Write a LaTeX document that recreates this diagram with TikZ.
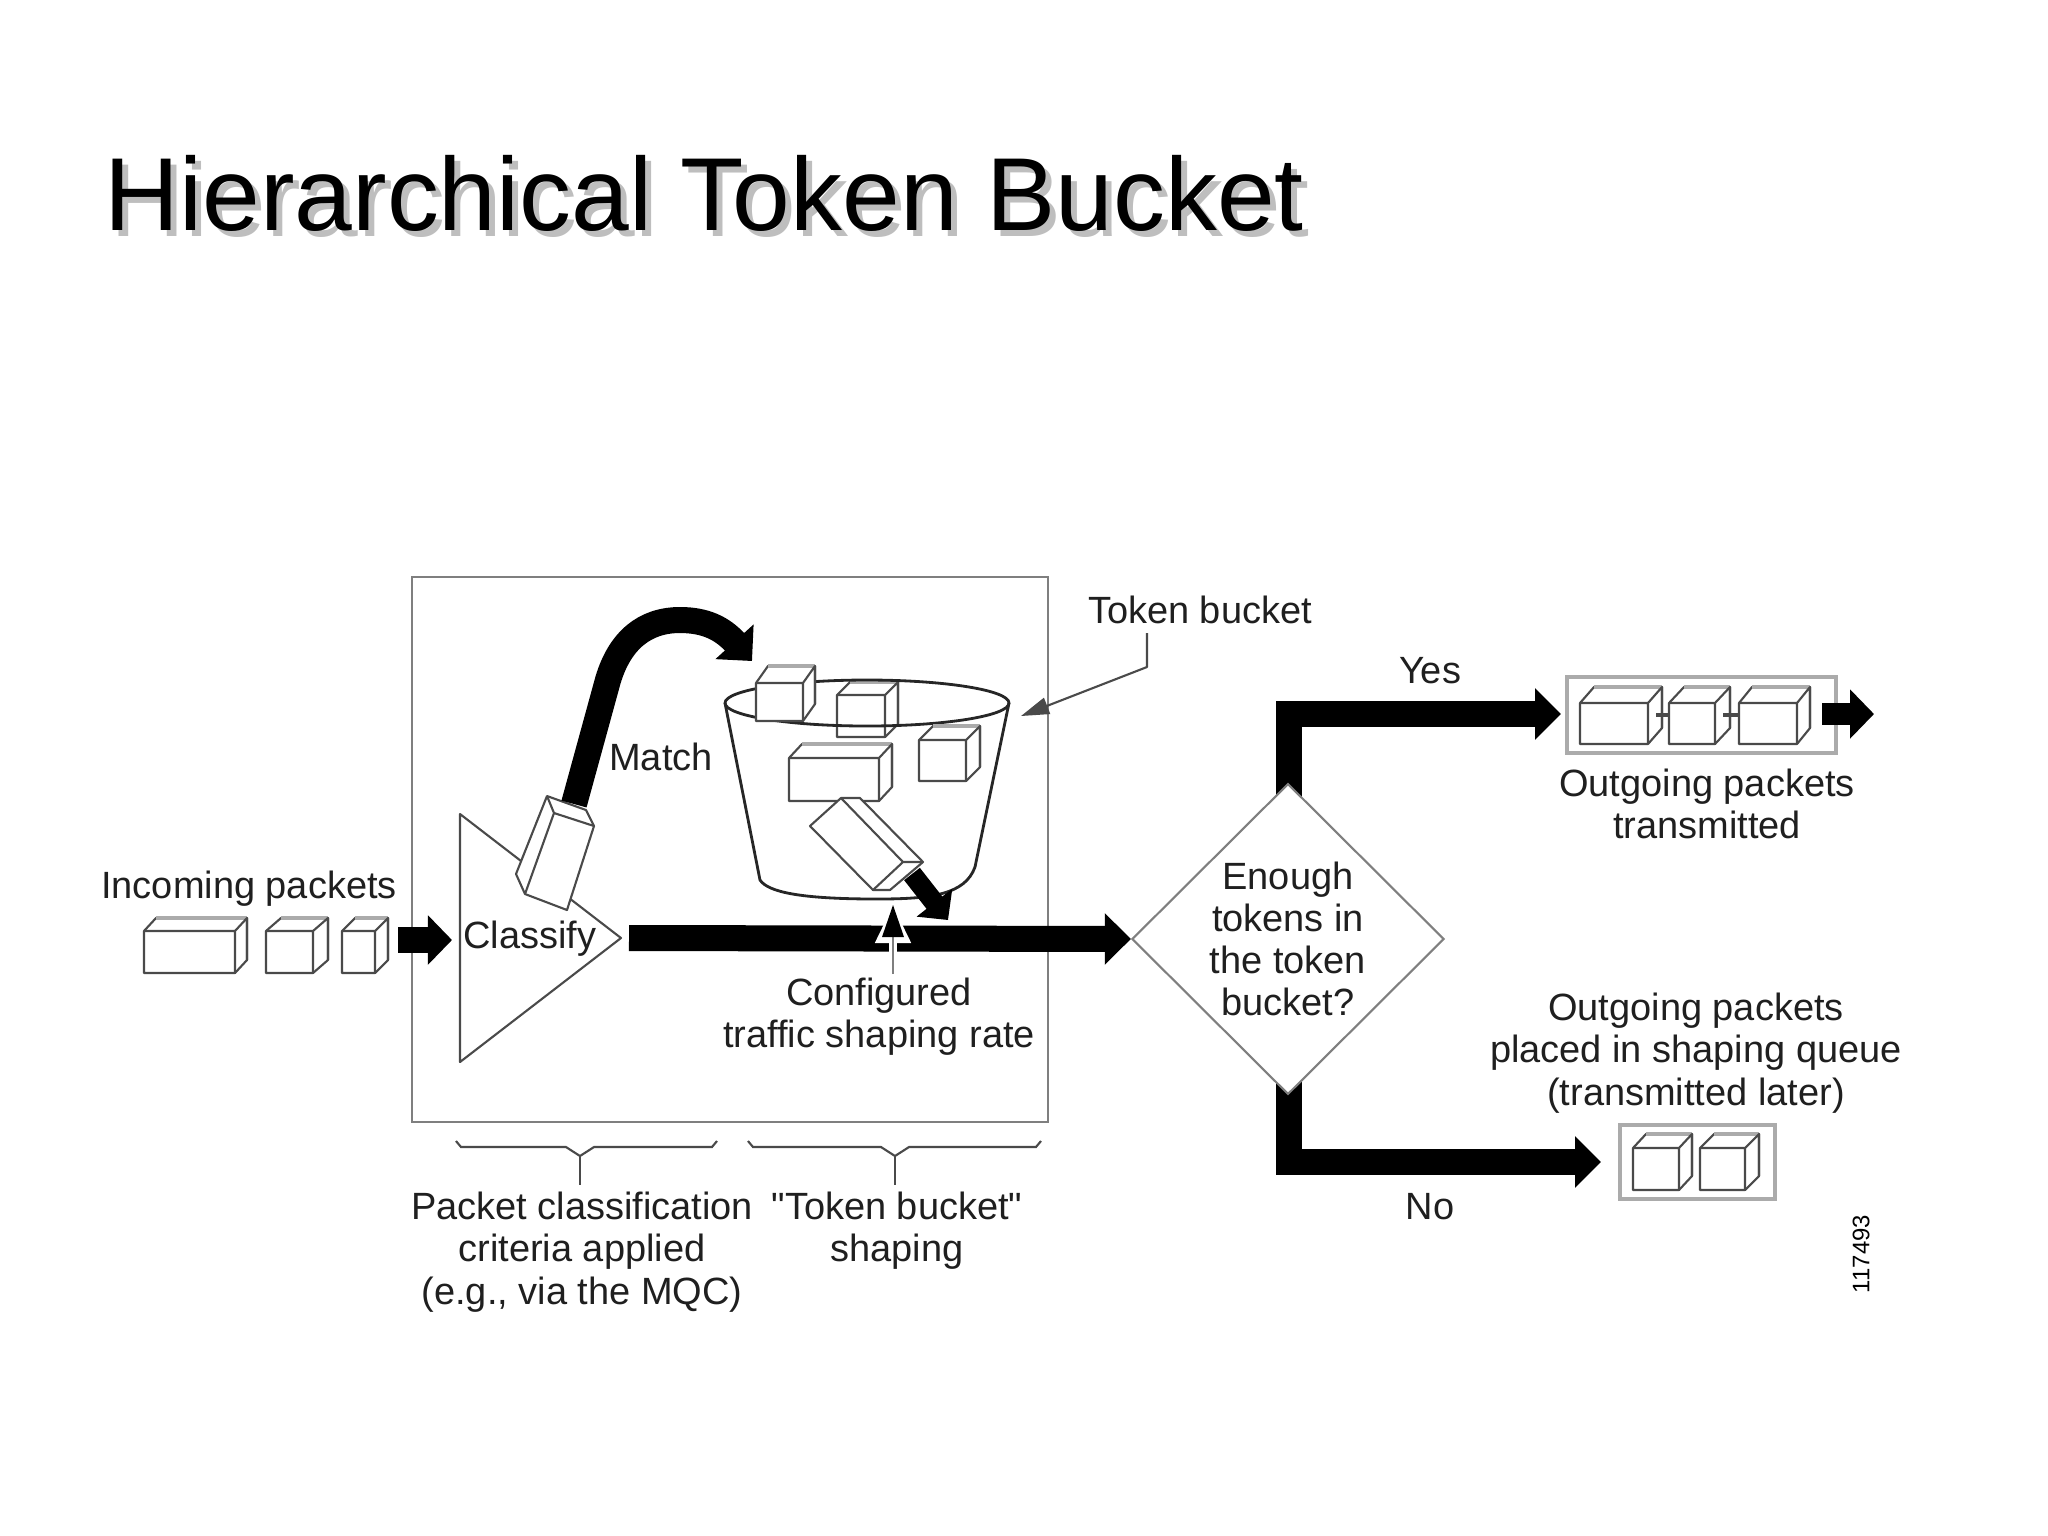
\documentclass[tikz,border=0pt]{standalone}
\usepackage{fontspec}
\setmainfont[Ligatures=TeXOff]{Liberation Sans}
\usetikzlibrary{arrows.meta,shapes.geometric,backgrounds}

\definecolor{frameline}{HTML}{7F7F7F}
\definecolor{boxline}{HTML}{ABABAB}
\definecolor{packetline}{HTML}{4A4A4A}
\definecolor{titleshadow}{HTML}{BEBEBE}

\tikzset{
    textlabel/.style={font=\fontsize{10.8}{12}\selectfont, align=center, inner sep=0pt, text=black!88},
    titlestyle/.style={font=\fontsize{29.5}{32}\selectfont, anchor=base west, inner sep=0pt},
    thinline/.style={draw=packetline, line width=0.6pt, line join=round},
    fatarrow/.style={line width=0.26cm, line join=miter, -{Triangle[length=0.26cm,width=0.5cm]}},
    queuebox/.style={draw=boxline, line width=1pt}
}

\newcommand{\drawpacket}[6]{
    \filldraw[thinline, fill=white] (#1,#2) -- ++(#5,-#6) -- ++(#3,0) -- ++(0,#4) -- ++(-#5,#6) -- ++(-#3,0) -- cycle;
    \draw[boxline, line width=1.1pt] (#1,#2) ++(#5,-#6) -- ++(#3,0);
    \draw[thinline] (#1,#2) -- ++(#3,0) -- ++(0,#4) (#1,#2) ++(#3,0) -- ++(#5,-#6) -- ++(0,#4);
}

\begin{document}
\begin{tikzpicture}[x=0.01cm,y=-0.01cm]
    \useasboundingbox (0,0) rectangle (2048,1535);

    \coordinate (matchstart) at (574,804);
    \coordinate (matchbend) at (608,680);
    \coordinate (matchend) at (752,661);
    \coordinate (barstart) at (629,938);
    \coordinate (inleft) at (398,940);
    \coordinate (inright) at (452,940);
    \coordinate (drainstart) at (912,874);
    \coordinate (drainend) at (948,920);
    \coordinate (yesbend) at (1289,714);
    \coordinate (yesend) at (1561,714);
    \coordinate (nobend) at (1289,1162);
    \coordinate (noend) at (1601,1162);
    \coordinate (outleft) at (1822,714);
    \coordinate (outright) at (1874,714);
    \coordinate (ratestart) at (893,974);
    \coordinate (ratetip) at (893,905);
    \coordinate (ratehead) at (893,930);
    \coordinate (leadertop) at (1147,633);
    \coordinate (leaderbend) at (1147,667);
    \coordinate (leaderend) at (1021,716);

    % title
    \node[titlestyle, text=titleshadow] (titleback) at (110,236) {Hierarchical Token Bucket};
    \node[titlestyle] (titletext) at (104,230) {Hierarchical Token Bucket};

    % frame
    \draw[frameline, line width=0.7pt] (412,577) rectangle (1048,1122);

    % classifier
    \draw[thinline] (460,814) -- (460,1062) -- (621,938) -- cycle;
    \node[textlabel] (classify) at (530,939) {Classify};

    % packets in front of the frame, and in the boxes
    \foreach \x/\y/\w/\h/\dx/\dy in {144/931/91/42/12/13, 266/931/47/42/15/13, 342/931/33/42/13/13,
        837/695/48/42/13/13,
        1580/703/68/41/14/16, 1669/703/46/41/15/16, 1739/703/58/41/13/16,
        1633/1148/46/42/13/14, 1700/1148/45/42/14/14}
    {
        \drawpacket{\x}{\y}{\w}{\h}{\dx}{\dy}
    }

    % bucket
    \draw[line width=0.8pt, draw=black!85] (867,703) ellipse (142 and 23);
    \draw[line width=0.8pt, draw=black!85] (725,703) -- (760,880) .. controls (768,892) and (800,899) .. (877,899)
        .. controls (930,899) and (965,895) .. (975,867) -- (1009,703);
    \foreach \x/\y/\w/\h/\dx/\dy in {756/683/47/38/12/17, 919/740/47/41/14/14, 789/758/90/43/13/14}
    {
        \drawpacket{\x}{\y}{\w}{\h}{\dx}{\dy}
    }
    \filldraw[thinline, fill=white] (810,826) -- (841,798) -- (860,798) -- (923,862) -- (890,890) -- (873,890) -- cycle;
    \draw[thinline] (841,798) -- (903,862) -- (873,890) (903,862) -- (923,862);
    \draw[line width=0.2cm, -{Triangle[length=0.22cm,width=0.44cm]}] (drainstart) -- (drainend);

    % packet that matched
    \filldraw[thinline, fill=white] (547,796) -- (586,810) -- (594,826) -- (567,910) -- (525,894) -- (516,874) -- cycle;
    \draw[thinline] (547,796) -- (554,813) -- (594,826) (554,813) -- (525,894);
    \draw[fatarrow] (matchstart) -- (matchbend) .. controls (620,640) and (645,620) .. (680,620) .. controls (705,620) and (722,628) .. (matchend);
    \node[textlabel] (match) at (661,757) {Match};

    \draw[fatarrow, -{Triangle[length=0.24cm,width=0.48cm]}] (inleft) -- (inright);

    % decision
    \node[diamond, draw=frameline, fill=white, line width=0.6pt, minimum width=3.12cm, minimum height=3.08cm, inner sep=0pt,
        font=\fontsize{10.8}{12}\selectfont, align=center, text=black!88] (decision) at (1288,939)
        {Enough\\tokens in\\the token\\bucket?};
    \draw[fatarrow] (barstart) -- (decision.west);
    \begin{scope}[on background layer]
        \draw[fatarrow] (decision.center -| yesbend) -- (yesbend) -- (yesend);
        \draw[fatarrow] (decision.center -| nobend) -- (nobend) -- (noend);
    \end{scope}

    % rate arrow
    \draw[white, line width=0.08cm, -{Triangle[length=0.38cm,width=0.34cm]}] (ratestart) -- (ratetip);
    \draw[frameline, line width=0.7pt] (ratestart) -- (ratehead);
    \fill (ratetip) -- ++(11,32) -- ++(-22,0) -- cycle;

    % token bucket leader
    \node[textlabel] (tokenlabel) at (1200,610) {Token bucket};
    \draw[thinline, -{Triangle[length=0.28cm,width=0.17cm]}] (leadertop) -- (leaderbend) -- (leaderend);

    % queues
    \draw[queuebox] (1567,677) rectangle (1836,753);
    \draw[queuebox] (1620,1125) rectangle (1775,1199);
    \draw[packetline, line width=1pt] (1656,715) -- (1670,715) (1723,715) -- (1739,715);
    \draw[line width=0.22cm, -{Triangle[length=0.24cm,width=0.48cm]}] (outleft) -- (outright);

    \node[textlabel] (yes) at (1430,671) {Yes};
    \node[textlabel] (no) at (1430,1207) {No};
    \node[textlabel] (sent) at (1707,804) {Outgoing packets\\transmitted};
    \node[textlabel] (later) at (1696,1053) {Outgoing packets\\placed in shaping queue\\(transmitted later)};
    \node[textlabel] (incoming) at (249,889) {Incoming packets};
    \node[textlabel] (rate) at (879,1017) {Configured\\traffic shaping rate};
    \node[textlabel] (criteria) at (582,1252) {Packet classification\\criteria applied\\(e.g., via the MQC)};
    \node[textlabel] (shaping) at (897,1231) {"Token bucket"\\shaping};
    \node[font=\fontsize{6.8}{8}\selectfont, rotate=90, inner sep=0pt] (figno) at (1861,1254) {117493};

    % braces
    \foreach \a/\m/\b in {456/580/717, 748/895/1041}
    {
        \draw[packetline, line width=0.6pt] (\a,1141) -- ++(5,6) -- ({\m-14},1147) -- (\m,1156) -- ({\m+14},1147) -- ({\b-5},1147) -- (\b,1141);
        \draw[packetline, line width=0.6pt] (\m,1156) -- (\m,1185);
    }
\end{tikzpicture}
\end{document}
